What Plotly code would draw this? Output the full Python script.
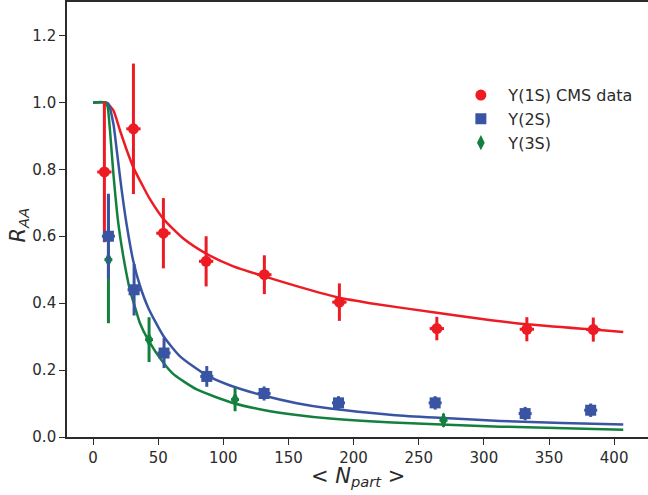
import plotly.graph_objects as go

# ---- data points ----
npart_1s = [8.7, 31, 54, 86.8, 131.5, 189.1, 263.9, 333, 384]
raa_1s = [0.792, 0.921, 0.609, 0.525, 0.485, 0.403, 0.324, 0.322, 0.321]
err_1s = [0.21, 0.195, 0.105, 0.075, 0.058, 0.056, 0.035, 0.036, 0.036]

npart_2s = [11.8, 31.5, 54.5, 87.3, 131.3, 188.4, 262.6, 331.7, 382]
raa_2s = [0.60, 0.44, 0.251, 0.181, 0.130, 0.102, 0.102, 0.070, 0.080]
err_2s = [0.127, 0.077, 0.045, 0.031, 0.021, 0.02, 0.02, 0.02, 0.02]

npart_3s = [11.8, 43, 109, 269]
raa_3s = [0.53, 0.291, 0.112, 0.05]
err_3s = [0.19, 0.067, 0.035, 0.02]

xerr_1s, xerr_2s, xerr_3s = 5.5, 5.0, 3.0

# ---- model curves ----
fit1_x = [0, 8, 11, 15.6, 20.7, 25.9, 31, 38.6, 43.8, 54, 69.3, 86.8, 107.7,
          131.5, 158.9, 189.1, 212.7, 263.9, 300, 333, 384, 407]
fit1_y = [1.0, 1.0, 0.997, 0.976, 0.916, 0.857, 0.805, 0.747, 0.71, 0.652, 0.593,
          0.548, 0.510, 0.480, 0.448, 0.416, 0.400, 0.371, 0.352, 0.337, 0.321, 0.314]

fit2_x = [0, 10, 11.8, 15.6, 18.2, 22, 25.9, 30.9, 36, 42.5, 54, 66.8, 87.3,
          105.2, 130.8, 156.4, 182, 230, 262, 312.5, 360, 407]
fit2_y = [1.0, 1.0, 0.995, 0.936, 0.857, 0.737, 0.632, 0.525, 0.452, 0.385, 0.302,
          0.241, 0.184, 0.154, 0.124, 0.101, 0.085, 0.066, 0.058, 0.048, 0.042, 0.037]

fit3_x = [0, 9, 11, 13, 15.6, 19.4, 23.3, 28.4, 32.2, 36.1, 42.5, 54, 61.7,
          79.6, 108.8, 130.8, 156.4, 182, 230, 312.5, 407]
fit3_y = [1.0, 1.0, 0.99, 0.916, 0.787, 0.638, 0.538, 0.438, 0.388, 0.339, 0.289,
          0.222, 0.188, 0.142, 0.100, 0.081, 0.066, 0.055, 0.043, 0.031, 0.022]

x_ticks = [0, 50, 100, 150, 200, 250, 300, 350, 400]
y_ticks = [0.0, 0.2, 0.4, 0.6, 0.8, 1.0, 1.2]

labels = ["Υ(1S) CMS data", "Υ(2S)", "Υ(3S)"]

RED = "#ED1C24"
BLUE = "#3A54A4"
GREEN = "#13803F"
AXC = "#2b2b2b"

fig = go.Figure()

for fx, fy, c in [(fit1_x, fit1_y, RED), (fit2_x, fit2_y, BLUE), (fit3_x, fit3_y, GREEN)]:
    fig.add_trace(go.Scatter(x=fx, y=fy, mode="lines", showlegend=False,
                             line=dict(color=c, width=2.5, shape="spline", smoothing=0.6),
                             hoverinfo="skip"))

def pts(x, y, e, xe, c, sym, size, name, rank):
    return go.Scatter(
        x=x, y=y, mode="markers", name=name, legendrank=rank,
        marker=dict(color=c, symbol=sym, size=size, line=dict(width=0)),
        error_y=dict(type="data", array=e, visible=True, color=c, thickness=3, width=0),
        error_x=dict(type="constant", value=xe, visible=True, color=c, thickness=3, width=0),
    )

fig.add_trace(pts(npart_1s, raa_1s, err_1s, xerr_1s, RED, "circle", 11, labels[0], 1))
fig.add_trace(pts(npart_3s, raa_3s, err_3s, xerr_3s, GREEN, "diamond-tall", 11, labels[2], 3))
fig.add_trace(pts(npart_2s, raa_2s, err_2s, xerr_2s, BLUE, "square", 11, labels[1], 2))

fig.update_layout(
    width=648, height=495,
    margin=dict(l=67, r=0, t=2, b=58, autoexpand=False),
    paper_bgcolor="white", plot_bgcolor="white",
    font=dict(family="DejaVu Sans", color=AXC, size=15),
    showlegend=True,
    legend=dict(x=0.665, y=0.825, xanchor="left", yanchor="top", itemwidth=45,
                bgcolor="rgba(0,0,0,0)", font=dict(size=16, color=AXC),
                tracegroupgap=0),
    annotations=[
        dict(text="&lt; <i>N</i><sub><i>part</i></sub> &gt;", xref="paper", yref="paper",
             x=0.5, y=0, xanchor="center", yanchor="middle", yshift=-40,
             showarrow=False, font=dict(size=21, color=AXC)),
        dict(text="<i>R</i><sub><i>AA</i></sub>", xref="paper", yref="paper",
             x=0, y=0.5, xanchor="center", yanchor="middle", xshift=-49, yshift=-6,
             textangle=-90, showarrow=False, font=dict(size=21, color=AXC)),
    ],
)
fig.update_xaxes(range=[-20, 426], tickvals=x_ticks, ticks="outside", ticklen=6,
                 tickwidth=1.3, tickcolor=AXC, showline=True, linecolor=AXC,
                 linewidth=1.6, mirror=True, showgrid=False, zeroline=False,
                 automargin=False, tickfont=dict(size=15, color=AXC))
fig.update_yaxes(range=[0, 1.3], tickvals=y_ticks, tickformat=".1f", ticks="outside",
                 ticklen=6, tickwidth=1.3, tickcolor=AXC, showline=True, linecolor=AXC,
                 linewidth=1.6, mirror=False, showgrid=False, zeroline=False,
                 automargin=False, tickfont=dict(size=15, color=AXC))

fig.write_html("out.html", config={"displayModeBar": False},
               post_script="document.body.style.margin='0';document.body.style.overflow='hidden';")
